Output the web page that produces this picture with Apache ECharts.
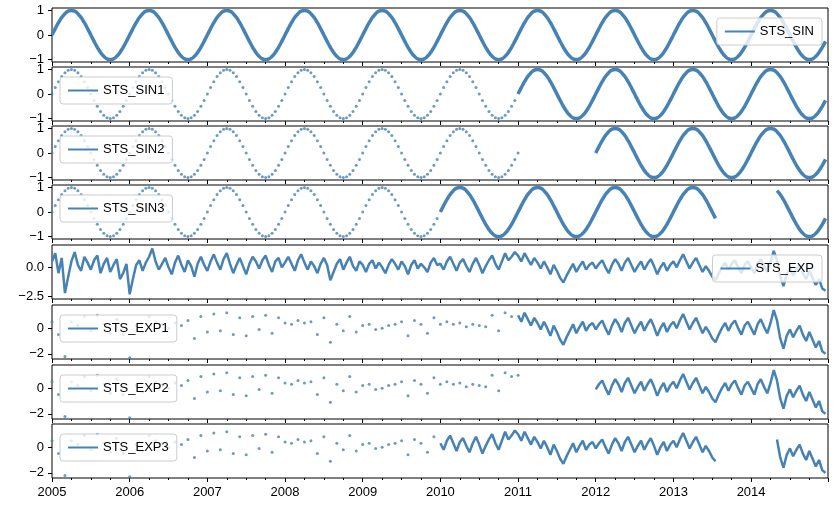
<!DOCTYPE html>
<html>
<head>
<meta charset="UTF-8">
<script src="https://cdn.jsdelivr.net/npm/echarts@6/dist/echarts.min.js"></script>
<style>html,body{margin:0;background:#fff}#main{width:838px;height:508px}</style>
</head>
<body>
<div id="main"></div>
<script>
// one sine cycle, 24 samples per year
var sinCycle = [0,0.26,0.5,0.71,0.87,0.97,1,0.97,0.87,0.71,0.5,0.26,0,-0.26,-0.5,-0.71,-0.87,-0.97,-1,-0.97,-0.87,-0.71,-0.5,-0.26];
var years = [2005,2006,2007,2008,2009,2010,2011,2012,2013,2014];
// noisy series, 24 samples per year
var expValues = [
  0.5,1.2,-0.5,0.8,-2.2,-0.8,0.5,1.3,0.2,-0.3,0.9,0.4,-0.2,0.6,1.0,-0.5,0.3,0.8,-0.4,0.2,0.7,-1.0,-0.5,0.3,
  -2.3,-1.0,0.2,0.6,-0.3,0.4,0.9,1.6,0.5,-0.2,0.3,0.8,0.0,-0.6,0.4,1.0,0.2,-0.4,0.6,0.1,-0.8,0.3,0.9,0.2,
  -0.3,0.5,1.1,0.4,-0.2,0.7,1.2,0.3,-0.5,0.2,0.8,0.1,-0.6,0.3,0.9,0.5,-0.1,0.6,1.0,0.2,-0.4,0.5,0.8,0.0,
  0.4,0.9,0.3,-0.3,0.6,1.1,0.4,-0.2,0.5,0.1,-0.5,0.3,0.8,0.2,-1.1,-0.4,0.3,0.7,-0.2,0.4,0.9,0.1,-0.3,0.5,
  0.2,-0.4,0.3,0.6,-0.1,0.4,0.0,-0.5,0.2,0.7,0.3,-0.2,0.5,0.1,-0.6,0.2,0.6,-0.1,0.3,0.0,-0.4,0.4,0.8,0.2,
  0.3,-0.2,0.5,0.9,0.3,-0.3,0.4,0.7,0.1,-0.4,0.3,0.8,0.2,-0.5,0.1,0.6,1.0,0.3,-0.2,0.5,1.2,0.6,0.9,1.3,
  1.0,0.5,1.2,0.7,0.2,0.8,0.4,-0.1,0.5,0.0,-0.6,0.2,-0.3,-0.9,-1.3,-0.7,-0.2,0.3,-0.4,0.1,0.5,-0.2,0.2,0.4,
  -0.1,0.3,0.6,0.0,-0.5,0.2,0.7,0.3,-0.3,0.4,0.8,0.2,-0.4,0.1,0.5,-0.2,0.3,0.7,0.1,-0.6,0.0,0.4,-0.3,0.2,
  0.5,0.0,0.6,1.1,0.5,-0.1,0.4,0.8,0.2,-0.4,0.1,-0.3,-0.8,-1.1,-0.5,0.0,0.4,-0.2,0.3,0.6,0.0,-0.5,0.2,0.5,
  0.0,-0.5,0.3,0.7,0.1,-0.4,0.4,1.4,0.6,-0.8,-1.6,-0.6,-0.1,-0.7,-0.2,0.2,-0.5,-1.0,-0.3,-0.9,-1.5,-1.0,-1.8,-2.0
];
var names = ['STS_SIN','STS_SIN1','STS_SIN2','STS_SIN3','STS_EXP','STS_EXP1','STS_EXP2','STS_EXP3'];
// [start, end] year ranges drawn as sparse dots / dense line
var sparseRanges = [[], [[2005,2011]], [[2005,2011.01]], [[2005,2010]]];
var denseRanges = [[[2005,2015]], [[2011,2015]], [[2012,2015]], [[2010,2013.55],[2014.3,2015]]];
var legendRight = [true,false,false,false,true,false,false,false];

var sinPts = [], expPts = [];
years.forEach(function (y, yi) {
  sinCycle.forEach(function (v, k) {
    var t = y + k / 24;
    sinPts.push([t, v]);
    expPts.push([t, expValues[yi * 24 + k]]);
  });
});
sinPts.push([2015, 0]);

function pick(pts, r, step) {
  return pts.filter(function (p, j) { return p[0] >= r[0] && p[0] < r[1] && j % step === 0; });
}

var color = '#4682b4';
var tops = [8, 67, 126, 185, 245, 305, 365, 424];
var grids = [], xAxes = [], yAxes = [], series = [], legends = [];
tops.forEach(function (top, i) {
  var isExp = i >= 4, pat = i % 4, pts = isExp ? expPts : sinPts;
  grids.push({left: 52, right: 10, top: top, height: 54, show: true, borderColor: '#000', borderWidth: 1});
  xAxes.push({
    type: 'value', gridIndex: i, min: 2005, max: 2014.99, interval: 1, position: 'bottom',
    axisLine: {show: false, onZero: false}, splitLine: {show: false},
    axisTick: {show: true, length: 4, lineStyle: {color: '#000'}},
    minorTick: {show: true, splitNumber: 4, length: 2, lineStyle: {color: '#000'}},
    axisLabel: {show: i === 7, color: '#000', fontSize: 13, showMaxLabel: false,
      formatter: function (v) { return String(Math.round(v)); }}
  });
  var ticks = !isExp ? [-1, 0, 1] : (i === 4 ? [-2.5, 0] : [-2, 0]);
  var range = !isExp ? [-1.1, 1.1] : (i === 4 ? [-2.7, 1.9] : [-2.4, 1.8]);
  yAxes.push({
    type: 'value', gridIndex: i, min: range[0], max: range[1], position: 'left',
    axisLine: {show: false, onZero: false}, splitLine: {show: false},
    axisTick: {show: true, length: 4, lineStyle: {color: '#000'}, customValues: ticks},
    axisLabel: {color: '#000', fontSize: 13, customValues: ticks,
      formatter: function (v) { return i === 4 ? v.toFixed(1).replace('-', '\u2212') : String(v).replace('-', '\u2212'); }}
  });
  denseRanges[pat].forEach(function (r) {
    series.push({
      name: names[i], type: 'line', xAxisIndex: i, yAxisIndex: i, data: pick(pts, r, 1),
      smooth: !isExp, showSymbol: false, symbol: 'none', animation: false,
      lineStyle: {color: color, width: isExp ? 2.5 : 3.5}, itemStyle: {color: color}
    });
  });
  sparseRanges[pat].forEach(function (r) {
    series.push({
      name: names[i], type: 'scatter', xAxisIndex: i, yAxisIndex: i, data: pick(pts, r, isExp ? 2 : 1),
      symbolSize: 3, animation: false, itemStyle: {color: color}
    });
  });
  var lg = {
    data: [{name: names[i], icon: 'rect'}], top: top + 10, itemWidth: 30, itemHeight: 2,
    textStyle: {color: '#000', fontSize: 13}, backgroundColor: 'rgba(255,255,255,0.8)',
    borderColor: '#ccc', borderWidth: 1, borderRadius: 3, padding: [7, 8], itemGap: 4, selectedMode: false
  };
  if (legendRight[i]) lg.right = 16; else lg.left = 60;
  legends.push(lg);
});

var chart = echarts.init(document.getElementById('main'));
chart.setOption({grid: grids, xAxis: xAxes, yAxis: yAxes, series: series, legend: legends});
</script>
</body>
</html>
